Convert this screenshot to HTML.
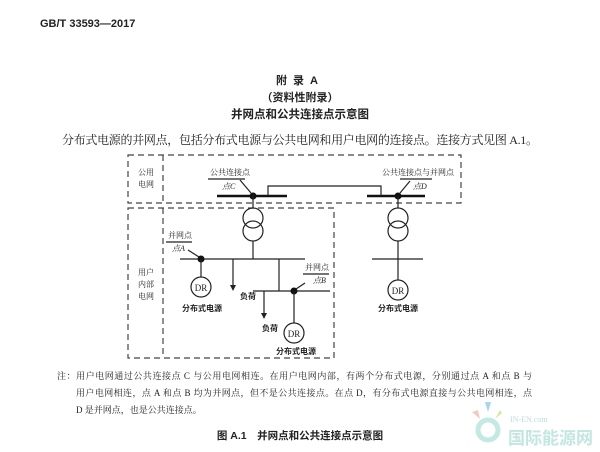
<!DOCTYPE html>
<html><head><meta charset="utf-8"><style>
body{margin:0;background:#fff;}
svg{display:block}
text{font-family:"Liberation Serif","Noto Serif CJK SC","Noto Sans CJK SC",serif;fill:#222}
.b{font-weight:bold;font-family:"Liberation Sans","Noto Sans CJK SC",sans-serif}
.s{font-size:8px}
.d{stroke:#444;stroke-width:1.2;stroke-dasharray:6,4;fill:none}
.l{stroke:#222;stroke-width:1.2;fill:none}
</style></head><body>
<svg width="600" height="452" viewBox="0 0 600 452">
<text x="40" y="27" class="b" font-size="11">GB/T 33593—2017</text>
<text x="300" y="84" class="b" font-size="11" text-anchor="middle" letter-spacing="6">附录A</text>
<text x="300" y="101" class="b" font-size="11" text-anchor="middle">（资料性附录）</text>
<text x="300" y="118" class="b" font-size="11.5" text-anchor="middle">并网点和公共连接点示意图</text>
<text x="62" y="144" font-size="12" textLength="476">分布式电源的并网点，包括分布式电源与公共电网和用户电网的连接点。连接方式见图 A.1。</text>
<rect x="128" y="155" width="333" height="48" class="d"/>
<line x1="163" y1="155" x2="163" y2="203" class="d"/>
<path d="M128 208 H334 V358 H128 Z" class="d"/>
<line x1="163" y1="208" x2="163" y2="358" class="d"/>
<text x="138" y="175" class="s">公用</text><text x="138" y="187" class="s">电网</text>
<text x="138" y="275" class="s">用户</text><text x="138" y="287" class="s">内部</text><text x="138" y="299" class="s">电网</text>
<line x1="217" y1="196" x2="287" y2="196" stroke="#111" stroke-width="2.5"/>
<line x1="367" y1="196" x2="425" y2="196" stroke="#111" stroke-width="2.5"/>
<path d="M268 196 V186 H381 V196" class="l"/>
<circle cx="253" cy="196" r="3.5" fill="#111"/><circle cx="398" cy="196" r="3.5" fill="#111"/>
<text x="210" y="175" class="s">公共连接点</text><line x1="208" y1="179" x2="245" y2="179" class="l" stroke-width=".8"/>
<text x="222" y="189" class="s" font-style="italic">点C</text>
<path d="M240 180 L251 193" class="l" stroke-width=".8"/>
<text x="382" y="175" class="s">公共连接点与并网点</text><line x1="400" y1="179" x2="432" y2="179" class="l" stroke-width=".8"/>
<text x="413" y="189" class="s" font-style="italic">点D</text>
<path d="M410 181 L400 193" class="l" stroke-width=".8"/>
<line x1="253" y1="196" x2="253" y2="208" class="l"/>
<circle cx="253" cy="218" r="10" class="l"/><circle cx="253" cy="231" r="10" class="l"/>
<line x1="253" y1="241" x2="253" y2="259" class="l"/>
<line x1="180" y1="259" x2="305" y2="259" class="l"/>
<circle cx="201" cy="259" r="3.5" fill="#111"/>
<text x="168" y="238" class="s">并网点</text><line x1="166" y1="242" x2="192" y2="242" class="l" stroke-width=".8"/>
<text x="172" y="251" class="s" font-style="italic">点A</text>
<path d="M188 250 L199 257" class="l" stroke-width=".8"/>
<line x1="201" y1="259" x2="201" y2="277" class="l"/>
<circle cx="201" cy="287" r="10" class="l"/><text x="201" y="291" font-size="9" text-anchor="middle">DR</text>
<text x="202" y="311" class="s b" text-anchor="middle">分布式电源</text>
<line x1="233" y1="259" x2="233" y2="288" class="l"/><path d="M230 285 L233 291 L236 285Z" fill="#222"/>
<text x="240" y="299" class="s b">负荷</text>
<line x1="279" y1="259" x2="279" y2="291" class="l"/>
<line x1="253" y1="291" x2="330" y2="291" class="l"/>
<circle cx="294" cy="291" r="3.5" fill="#111"/>
<text x="305" y="270" class="s">并网点</text><line x1="303" y1="274" x2="329" y2="274" class="l" stroke-width=".8"/>
<text x="313" y="283" class="s" font-style="italic">点B</text>
<path d="M305 283 L296 289" class="l" stroke-width=".8"/>
<line x1="294" y1="291" x2="294" y2="323" class="l" stroke-width="1.6"/>
<circle cx="294" cy="333" r="10" class="l"/><text x="294" y="337" font-size="9" text-anchor="middle">DR</text>
<text x="296" y="354" class="s b" text-anchor="middle">分布式电源</text>
<line x1="264" y1="291" x2="264" y2="316" class="l"/><path d="M261 313 L264 319 L267 313Z" fill="#222"/>
<text x="262" y="331" class="s b">负荷</text>
<line x1="398" y1="196" x2="398" y2="208" class="l"/>
<circle cx="398" cy="218" r="10" class="l"/><circle cx="398" cy="231" r="10" class="l"/>
<line x1="398" y1="241" x2="398" y2="280" class="l"/>
<line x1="372" y1="259" x2="423" y2="259" class="l"/>
<circle cx="398" cy="290" r="10" class="l"/><text x="398" y="294" font-size="9" text-anchor="middle">DR</text>
<text x="398" y="311" class="s b" text-anchor="middle">分布式电源</text>
<text x="57" y="379" font-size="9" textLength="475">注：用户电网通过公共连接点 C 与公用电网相连。在用户电网内部，有两个分布式电源，分别通过点 A 和点 B 与</text>
<text x="76" y="396" font-size="9" textLength="456">用户电网相连，点 A 和点 B 均为并网点，但不是公共连接点。在点 D，有分布式电源直接与公共电网相连，点</text>
<text x="76" y="413" font-size="9">D 是并网点，也是公共连接点。</text>
<text x="300" y="439" class="b" font-size="10.5" text-anchor="middle">图 A.1　并网点和公共连接点示意图</text>
<circle cx="488" cy="430" r="10" fill="none" stroke="#c4e8e2" stroke-width="5"/>
<path d="M485 402 l3 10 l3 -10z" fill="#a9d3f0"/><path d="M472 412 l8 7 l-2 -9z" fill="#f6c9c0"/><path d="M500 410 l-5 9 l7 -6z" fill="#cfe9a8"/>
<text x="510" y="422" font-size="8" style="fill:#b9e0da">IN-EN.com</text>
<text x="508" y="444" font-size="17" style="fill:#c2e6e0" class="b">国际能源网</text>
</svg>
</body></html>
